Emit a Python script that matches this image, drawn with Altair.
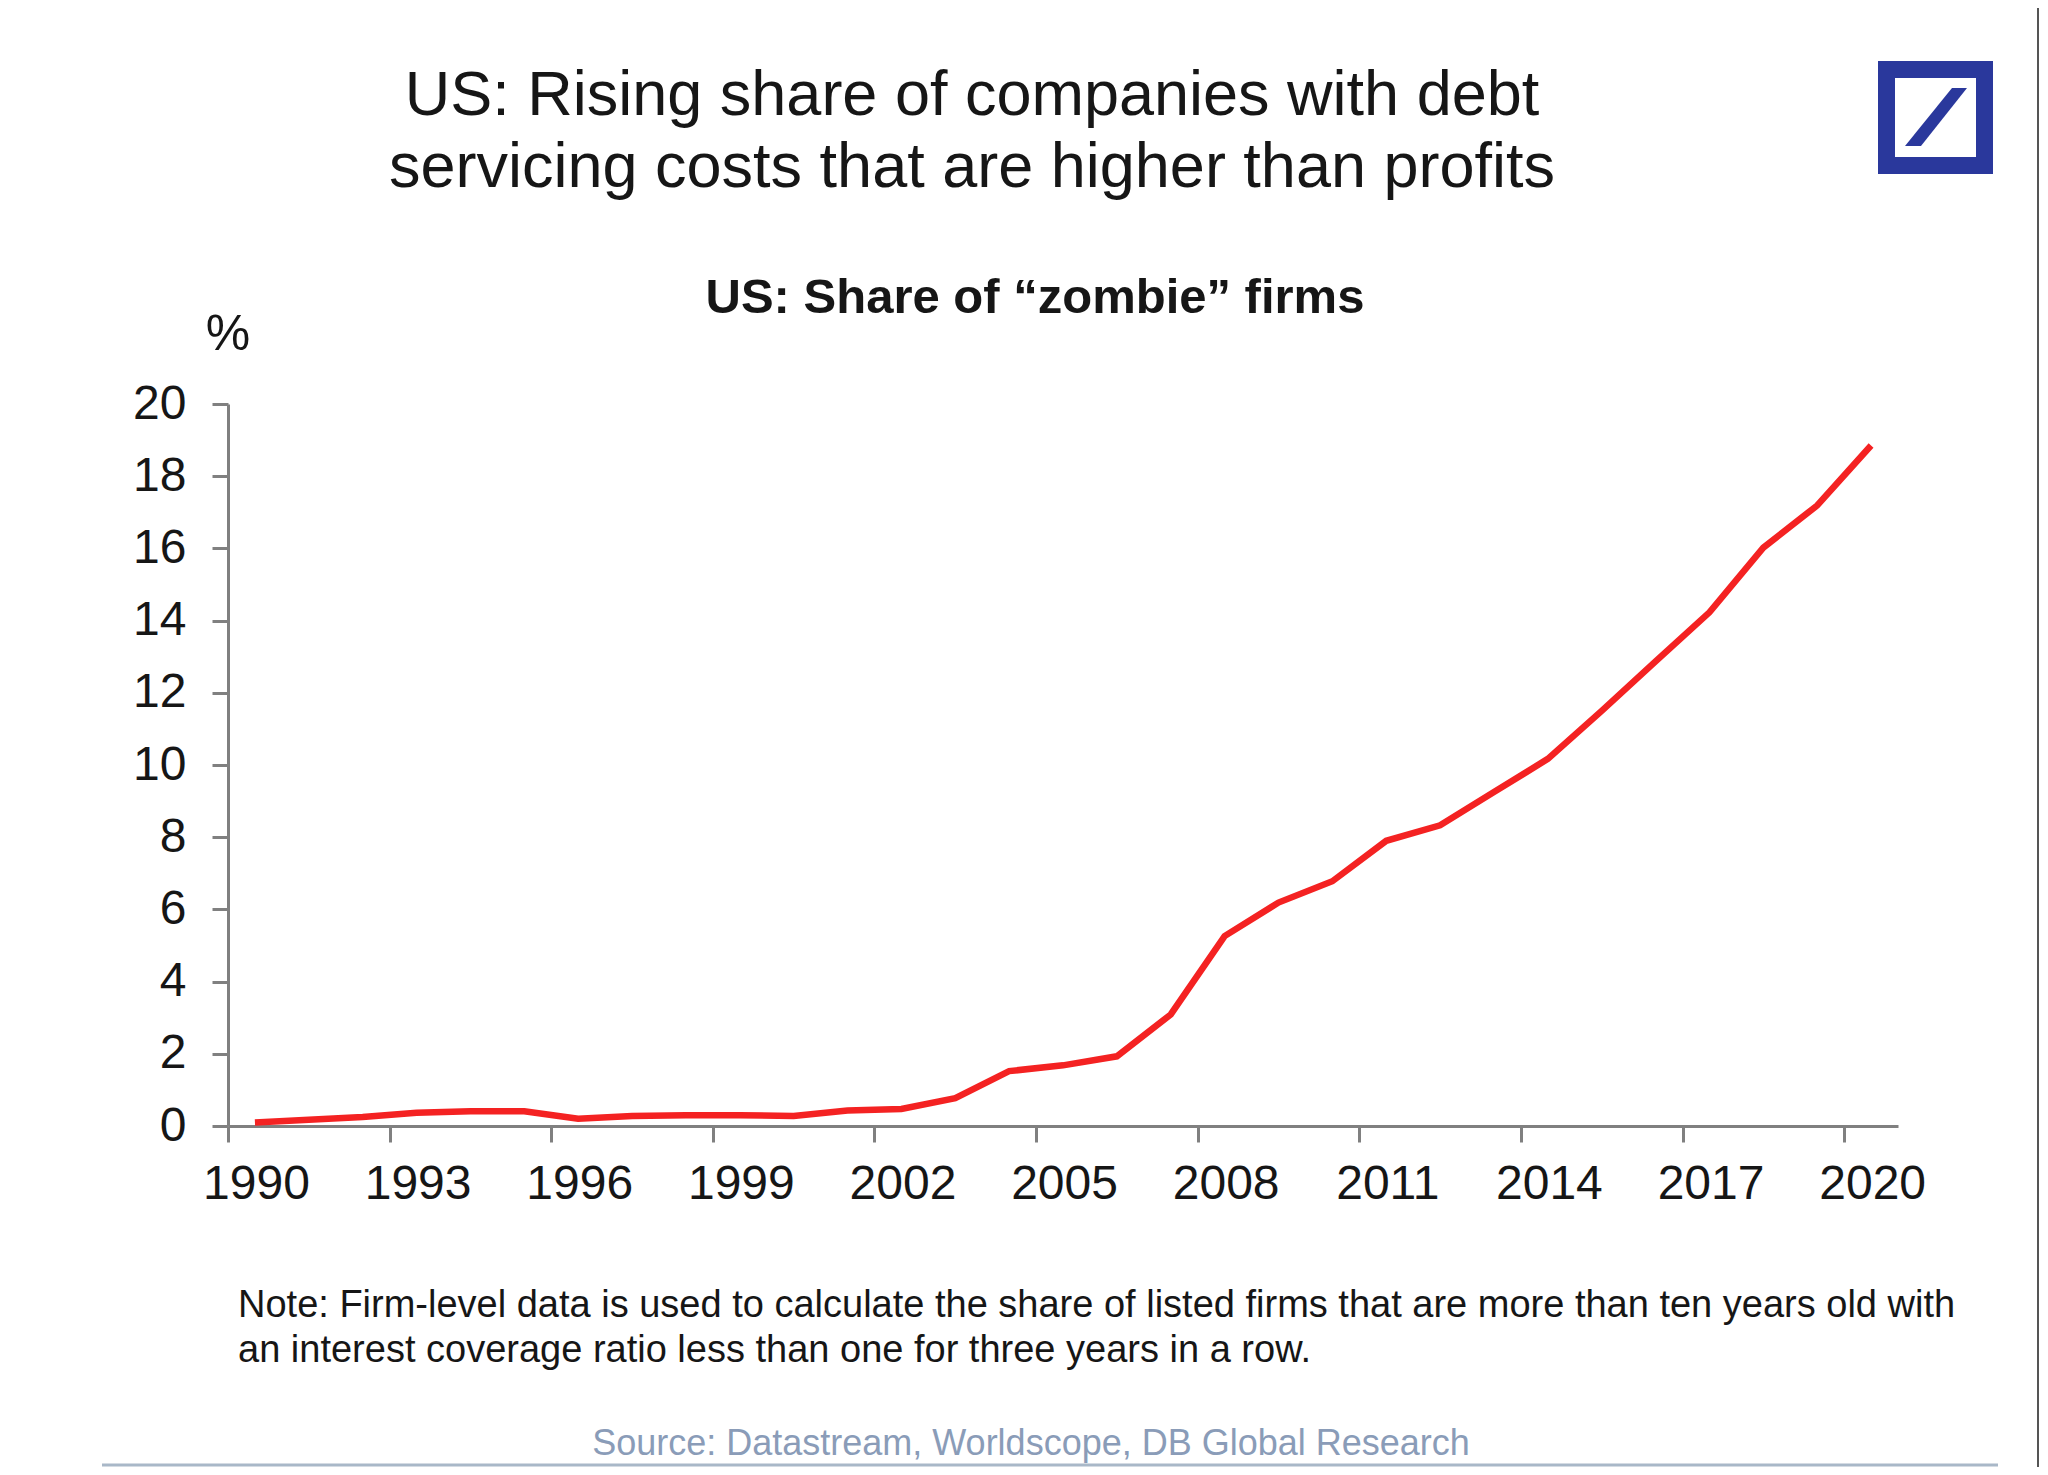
import altair as alt
import pandas as pd

# ---- data ----
years = list(range(1990, 2021))
share = [0.10, 0.17, 0.25, 0.37, 0.41, 0.41, 0.20, 0.28, 0.30, 0.30,
         0.28, 0.43, 0.47, 0.77, 1.52, 1.68, 1.93, 3.09, 5.26, 6.19,
         6.78, 7.90, 8.33, 9.25, 10.17, 11.50, 12.87, 14.23, 16.02, 17.19,
         18.85]
x_tick_years = list(range(1990, 2021, 3))
y_tick_values = list(range(0, 21, 2))

title_lines = ["US: Rising share of companies with debt",
               "servicing costs that are higher than profits"]
subtitle = "US: Share of \u201czombie\u201d firms"
unit_label = "%"
note_lines = ["Note: Firm-level data is used to calculate the share of listed firms that are more than ten years old with",
              "an interest coverage ratio less than one for three years in a row."]
source_text = "Source: Datastream, Worldscope, DB Global Research"

# ---- styling ----
FONT = "Liberation Sans"
TXT = "#161616"
AXC = "#808080"
BLUE = "#2a389c"
RED = "#f42222"
W, H = 1670, 722
PAD = {"left": 220, "top": 396, "right": 142, "bottom": 341}

df = pd.DataFrame({"year": years, "share": share})
df["pos"] = df["year"] + 0.5  # annual values drawn at mid-year

axis_common = dict(
    title=None, grid=False, domainColor=AXC, domainWidth=3, tickColor=AXC,
    tickWidth=3, tickSize=16, labelFont=FONT, labelFontSize=48,
    labelColor=TXT, labelOverlap=False, labelFlush=False, format="d",
)

line = alt.Chart(df).mark_line(color=RED, strokeWidth=6.5).encode(
    x=alt.X("pos:Q",
            scale=alt.Scale(domain=[1990, 2021], nice=False, zero=False),
            axis=alt.Axis(values=x_tick_years, labelOffset=28, labelPadding=18,
                          **axis_common)),
    y=alt.Y("share:Q",
            scale=alt.Scale(domain=[0, 20], nice=False, zero=True),
            axis=alt.Axis(values=y_tick_values, labelPadding=26, **axis_common)),
)


def text_layer(text, x, y, size, weight="normal", align="center", color=TXT,
               line_height=None):
    d = pd.DataFrame({"t": [text]})
    kw = dict(align=align, baseline="alphabetic", font=FONT, fontSize=size,
              fontWeight=weight, color=color)
    if line_height is not None:
        kw.update(lineBreak="\n", lineHeight=line_height)
    return alt.Chart(d).mark_text(**kw).encode(
        x=alt.value(x), y=alt.value(y), text="t:N")


one = pd.DataFrame({"k": [0]})

title = text_layer("\n".join(title_lines), 744, -289, 63, line_height=72)
sub = text_layer(subtitle, 807, -91, 49, weight="bold")
pct = text_layer(unit_label, 0, -54, 50)
note = text_layer("\n".join(note_lines), 10, 913, 38, align="left",
                  line_height=45)
src = text_layer(source_text, 803, 1051, 36, color="#8a9cb8")

logo_ring = alt.Chart(one).mark_rect(filled=False, stroke=BLUE, strokeWidth=17).encode(
    x=alt.value(1658.5), x2=alt.value(1756.5),
    y=alt.value(-334.5), y2=alt.value(-238.5))
logo_slash = alt.Chart(one).mark_point(
    shape="M -1 0.935 L -0.484 0.935 L 1 -0.935 L 0.516 -0.935 Z",
    filled=True, fill=BLUE, size=3844, opacity=1, strokeWidth=0).encode(
    x=alt.value(1708), y=alt.value(-287))

bottom_rule = alt.Chart(one).mark_rule(color="#a9b8c8", strokeWidth=3).encode(
    x=alt.value(-126), x2=alt.value(1770), y=alt.value(1061))
right_border = alt.Chart(one).mark_rule(color="#555555", strokeWidth=2).encode(
    x=alt.value(1810), y=alt.value(-396), y2=alt.value(1063))

chart = alt.layer(
    line, title, sub, pct, note, src, logo_ring, logo_slash, bottom_rule,
    right_border,
).properties(
    width=W, height=H, padding=PAD,
    autosize=alt.AutoSizeParams(type="none"),
).configure(background="white").configure_view(strokeWidth=0)

chart.save("out.html", embed_options={"renderer": "svg", "actions": False})
